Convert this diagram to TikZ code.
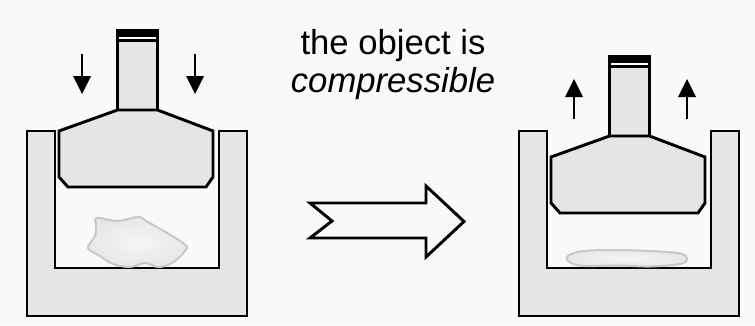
\documentclass[tikz,border=0pt]{standalone}
\usepackage{fontspec}
\setmainfont{Liberation Sans}
\definecolor{bggray}{RGB}{249,249,249}
\definecolor{partgray}{RGB}{229,229,229}
\definecolor{lumpgray}{RGB}{231,231,231}
\definecolor{lumpedge}{RGB}{200,200,200}
\tikzset{every picture/.style={line width=2.2pt}}

\begin{document}
\begin{tikzpicture}[x=0.75pt,y=0.75pt,yscale=-1,xscale=1]
	%set diagram left start at 0, and has size of 755 x 325
	\fill [bggray] (0,0) rectangle (755,325);

	%Shape: Polygon [left vessel]
	\draw [fill=partgray] (27,131) -- (55,131) -- (55,268) -- (219,268) -- (219,131) -- (247,131) -- (247,316) -- (27,316) -- cycle ;
	%Shape: Rectangle [left rod]
	\draw [fill=partgray] (117.5,30) rectangle (157.5,110) ;
	\fill (116.4,28.9) rectangle (158.6,42) ;
	\fill [white] (119,37) rectangle (156,39) ;
	%Shape: Polygon [left plunger]
	\draw [fill=partgray] (117.5,110) -- (157.5,110) -- (213,131) -- (213,177) -- (206,187) -- (68,187) -- (59,177) -- (59,131) -- cycle ;
	%Shape: Blob [left lump]
	\draw [lumpedge, inner color=white!96!black, outer color=lumpgray, line width=1.5pt] plot [smooth cycle, tension=0.6] coordinates {(97,218) (118,221) (138,217) (148,222) (183,243) (185,251) (172,263) (158,267) (145,263) (130,267) (113,264) (100,256) (88,248) (95,236) (96,225)} ;

	%Straight Lines [push arrows]
	\coordinate (pushA) at (82,54) ;
	\coordinate (pushAtip) at (82,94) ;
	\coordinate (pushB) at (195,54) ;
	\coordinate (pushBtip) at (195,94) ;
	\draw [shorten >=13pt] (pushA) -- (pushAtip) ;
	\fill [shift={(pushAtip)}, rotate = 270] (18,-9) -- (0,0) -- (18,9) -- cycle ;
	\draw [shorten >=13pt] (pushB) -- (pushBtip) ;
	\fill [shift={(pushBtip)}, rotate = 270] (18,-9) -- (0,0) -- (18,9) -- cycle ;

	% Text Node
	\node [font=\fontsize{26}{28.5}\selectfont, align=center, inner sep=0] (claim) at (393,65) {the object is\\ \textit{compressible}} ;

	%Shape: Polygon [block arrow]
	\draw (310,203) -- (426,203) -- (426,186) -- (464,221.5) -- (426,257) -- (426,238) -- (310,238) -- (332,221) -- cycle ;

	%Shape: Polygon [right vessel]
	\draw [fill=partgray] (519,131) -- (547,131) -- (547,268) -- (711,268) -- (711,131) -- (739,131) -- (739,316) -- (519,316) -- cycle ;
	%Shape: Rectangle [right rod]
	\draw [fill=partgray] (609.5,56) rectangle (649.5,136) ;
	\fill (608.4,54.9) rectangle (650.6,68) ;
	\fill [white] (611,63) rectangle (648,65) ;
	%Shape: Polygon [right plunger]
	\draw [fill=partgray] (609.5,136) -- (649.5,136) -- (705,157) -- (705,203) -- (698,213) -- (560,213) -- (551,203) -- (551,157) -- cycle ;
	%Shape: Blob [right flattened lump]
	\draw [lumpedge, inner color=white!96!black, outer color=lumpgray, line width=1.5pt] plot [smooth cycle, tension=0.6] coordinates {(567,257) (580,251.5) (610,250) (650,251) (680,253.5) (687,259) (680,264) (650,266.5) (620,265.5) (585,266) (571,263)} ;

	%Straight Lines [release arrows]
	\coordinate (liftA) at (574,119) ;
	\coordinate (liftAtip) at (574,79) ;
	\coordinate (liftB) at (687,119) ;
	\coordinate (liftBtip) at (687,79) ;
	\draw [shorten >=13pt] (liftA) -- (liftAtip) ;
	\fill [shift={(liftAtip)}, rotate = 90] (18,-9) -- (0,0) -- (18,9) -- cycle ;
	\draw [shorten >=13pt] (liftB) -- (liftBtip) ;
	\fill [shift={(liftBtip)}, rotate = 90] (18,-9) -- (0,0) -- (18,9) -- cycle ;

\end{tikzpicture}
\end{document}
